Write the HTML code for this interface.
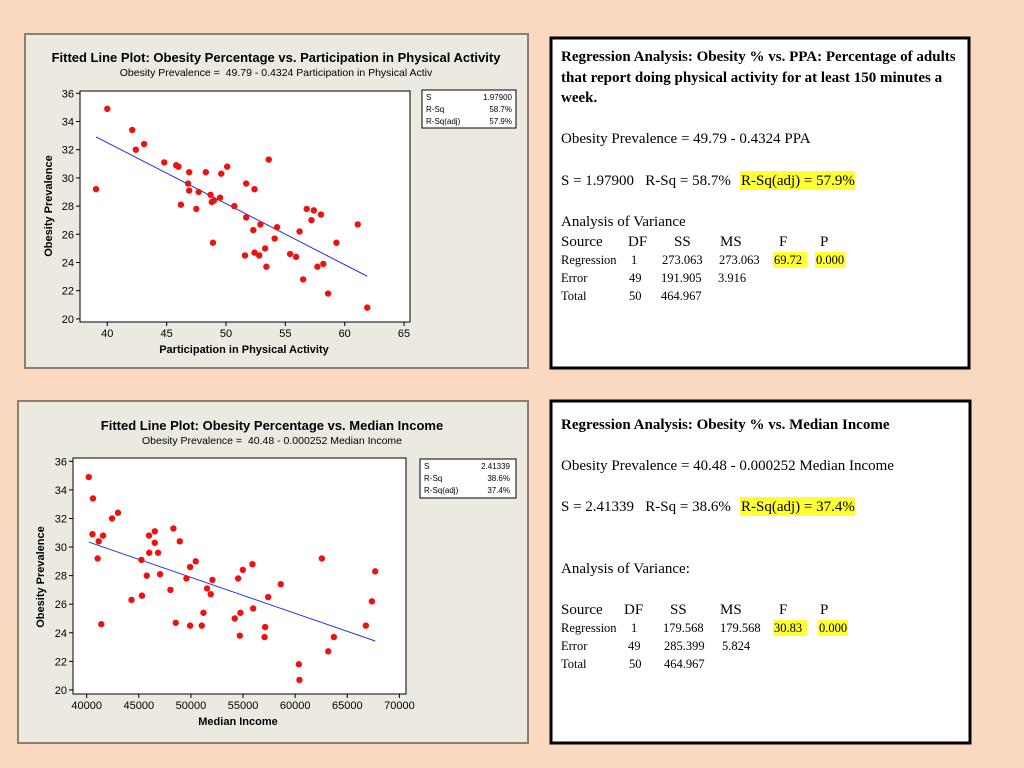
<!DOCTYPE html>
<html><head><meta charset="utf-8"><style>
html,body{margin:0;padding:0;background:#fbd9c0;}
svg{display:block;font-family:"Liberation Sans",sans-serif;}
.pre{white-space:pre;}
</style></head><body>
<svg id="page" width="1024" height="768" viewBox="0 0 1024 768">
<rect x="0" y="0" width="1024" height="768" fill="#fbd9c0"/>
<g id="chart1">
<rect x="25" y="34" width="503" height="334" fill="#ece9e1" stroke="#8a7f70" stroke-width="2"/>
<text x="276" y="62" text-anchor="middle" font-weight="bold" font-size="13">Fitted Line Plot: Obesity Percentage vs. Participation in Physical Activity</text>
<text x="276" y="76" text-anchor="middle" font-size="10.5" class="pre">Obesity Prevalence =  49.79 - 0.4324 Participation in Physical Activ</text>
<rect x="80" y="91" width="330" height="231" fill="#fff" stroke="#000" stroke-width="1"/>
<g id="c1ticks"></g><g id="c1marks"></g>
<g>
<rect x="422" y="90" width="94" height="38" fill="#fff" stroke="#000"/>
<g font-size="8"><text x="426" y="100">S</text><text x="512" y="100" text-anchor="end">1.97900</text>
<text x="426" y="112">R-Sq</text><text x="512" y="112" text-anchor="end">58.7%</text>
<text x="426" y="124">R-Sq(adj)</text><text x="512" y="124" text-anchor="end">57.9%</text></g></g>
<text x="244" y="353" text-anchor="middle" font-weight="bold" font-size="11">Participation in Physical Activity</text>
<text transform="translate(52,206) rotate(-90)" text-anchor="middle" font-weight="bold" font-size="11">Obesity Prevalence</text>
</g>
<g id="chart2">
<rect x="18" y="401" width="510" height="342" fill="#ece9e1" stroke="#8a7f70" stroke-width="2"/>
<text x="272" y="430" text-anchor="middle" font-weight="bold" font-size="13">Fitted Line Plot: Obesity Percentage vs. Median Income</text>
<text x="272" y="444" text-anchor="middle" font-size="10.5" class="pre">Obesity Prevalence =  40.48 - 0.000252 Median Income</text>
<rect x="73" y="458" width="333" height="236" fill="#fff" stroke="#000" stroke-width="1"/>
<g id="c2ticks"></g><g id="c2marks"></g>
<g>
<rect x="420" y="459" width="96" height="39" fill="#fff" stroke="#000"/>
<g font-size="8"><text x="424" y="469">S</text><text x="510" y="469" text-anchor="end">2.41339</text>
<text x="424" y="481">R-Sq</text><text x="510" y="481" text-anchor="end">38.6%</text>
<text x="424" y="493">R-Sq(adj)</text><text x="510" y="493" text-anchor="end">37.4%</text></g></g>
<text x="238" y="725" text-anchor="middle" font-weight="bold" font-size="11">Median Income</text>
<text transform="translate(44,577) rotate(-90)" text-anchor="middle" font-weight="bold" font-size="11">Obesity Prevalence</text>
</g>
<g font-family="Liberation Serif, serif">
<rect x="551" y="38" width="418" height="330" fill="#fff" stroke="#000" stroke-width="3"/>
<g font-weight="bold" font-size="15">
<text x="561" y="61">Regression Analysis: Obesity % vs. PPA: Percentage of adults</text>
<text x="561" y="82">that report doing physical activity for at least 150 minutes a</text>
<text x="561" y="102">week.</text></g>
<text x="561" y="143" font-size="15">Obesity Prevalence = 49.79 - 0.4324 PPA</text>
<rect x="740" y="171" width="115" height="19" fill="#ffff33"/>
<text x="561" y="185" font-size="15" class="pre">S = 1.97900   R-Sq = 58.7%</text>
<text x="741" y="185" font-size="15">R-Sq(adj) = 57.9%</text>
<text x="561" y="226" font-size="15">Analysis of Variance</text>
<g font-size="15"><text x="561" y="246">Source</text><text x="628" y="246">DF</text><text x="674" y="246">SS</text><text x="720" y="246">MS</text><text x="779" y="246">F</text><text x="820" y="246">P</text></g>
<rect x="773" y="252" width="34" height="16" fill="#ffff33"/><rect x="815" y="252" width="30" height="16" fill="#ffff33"/>
<g font-size="12.5">
<text x="561" y="264">Regression</text><text x="631" y="264">1</text><text x="662" y="264">273.063</text><text x="719" y="264">273.063</text><text x="774" y="264">69.72</text><text x="816" y="264">0.000</text>
<text x="561" y="282">Error</text><text x="629" y="282">49</text><text x="661" y="282">191.905</text><text x="718" y="282">3.916</text>
<text x="561" y="300">Total</text><text x="629" y="300">50</text><text x="661" y="300">464.967</text></g>
</g>
<g font-family="Liberation Serif, serif">
<rect x="551" y="401" width="419" height="342" fill="#fff" stroke="#000" stroke-width="3"/>
<text x="561" y="429" font-weight="bold" font-size="15">Regression Analysis: Obesity % vs. Median Income</text>
<text x="561" y="470" font-size="15">Obesity Prevalence = 40.48 - 0.000252 Median Income</text>
<rect x="740" y="497" width="115" height="19" fill="#ffff33"/>
<text x="561" y="511" font-size="15" class="pre">S = 2.41339   R-Sq = 38.6%</text>
<text x="741" y="511" font-size="15">R-Sq(adj) = 37.4%</text>
<text x="561" y="573" font-size="15">Analysis of Variance:</text>
<g font-size="15"><text x="561" y="614">Source</text><text x="624" y="614">DF</text><text x="670" y="614">SS</text><text x="720" y="614">MS</text><text x="779" y="614">F</text><text x="820" y="614">P</text></g>
<rect x="773" y="620" width="34" height="16" fill="#ffff33"/><rect x="818" y="620" width="30" height="16" fill="#ffff33"/>
<g font-size="12.5">
<text x="561" y="632">Regression</text><text x="631" y="632">1</text><text x="663" y="632">179.568</text><text x="720" y="632">179.568</text><text x="774" y="632">30.83</text><text x="819" y="632">0.000</text>
<text x="561" y="650">Error</text><text x="628" y="650">49</text><text x="664" y="650">285.399</text><text x="722" y="650">5.824</text>
<text x="561" y="668">Total</text><text x="629" y="668">50</text><text x="664" y="668">464.967</text></g>
</g>
</svg>
<script>
const ppaX=[39.05,40,42.1,42.4,43.1,44.8,45.8,46.0,46.9,46.8,46.9,46.2,47.7,47.5,48.3,48.7,48.8,49.0,49.5,48.9,49.6,50.1,50.7,51.7,51.7,52.4,53.6,52.3,52.9,51.6,52.4,52.8,53.3,53.4,54.1,54.3,55.4,55.9,56.2,56.5,56.8,57.4,57.2,58.0,57.7,58.2,58.6,59.3,61.1,61.9];
const ppaY=[29.2,34.9,33.4,32.0,32.4,31.1,30.9,30.8,30.4,29.6,29.1,28.1,29.0,27.8,30.4,28.8,28.3,28.4,28.6,25.4,30.3,30.8,28.0,29.6,27.2,29.2,31.3,26.3,26.7,24.5,24.7,24.5,25.0,23.7,25.7,26.5,24.6,24.4,26.2,22.8,27.8,27.7,27.0,27.4,23.7,23.9,21.8,25.4,26.7,20.8];
const ppaXTicks=[40,45,50,55,60,65];
const yTicks=[20,22,24,26,28,30,32,34,36];
const ppaFit=[49.79,-0.4324];
const incX=[40200,40600,40550,41150,41570,41050,41400,42430,43000,44300,45250,45300,45760,45980,46000,46530,46530,46850,47040,48030,48320,48540,48930,49570,49920,49920,50460,51040,51200,51550,51900,52060,54200,54530,54750,54980,54690,55900,55970,57060,57120,57410,58620,60350,60410,62560,63170,63710,66780,67360,67680];
const incY=[34.9,33.4,30.9,30.4,30.8,29.2,24.6,32.0,32.4,26.3,29.1,26.6,28.0,30.8,29.6,31.1,30.3,29.6,28.1,27.0,31.3,24.7,30.4,27.8,28.6,24.5,29.0,24.5,25.4,27.1,26.7,27.7,25.0,27.8,25.4,28.4,23.8,28.8,25.7,23.7,24.4,26.5,27.4,21.8,20.7,29.2,22.7,23.7,24.5,26.2,28.3];
const incXTicks=[40000,45000,50000,55000,60000,65000,70000];
const incFit=[40.48,-0.000252];
const NS='http://www.w3.org/2000/svg';
function mk(tag,attrs,parent){const e=document.createElementNS(NS,tag);for(const k in attrs)e.setAttribute(k,attrs[k]);parent.appendChild(e);return e;}
function draw(tg,mg,xs,ys,xt,fit,ax,ay,prefix){
  const tickG=document.getElementById(tg),markG=document.getElementById(mg);
  const plot=tickG.previousElementSibling;
  const left=+plot.getAttribute('x'),top=+plot.getAttribute('y'),bottom=top+(+plot.getAttribute('height'));
  xt.forEach(t=>{const px=ax(t);
    const l=mk('line',{x1:px,x2:px,y1:bottom,y2:bottom+4,stroke:'#000'},tickG);
    
    
    const tx=mk('text',{x:px,y:bottom+15,'text-anchor':'middle','font-size':'11'},tickG);tx.textContent=t;
    
    });
  yTicks.forEach(t=>{const py=ay(t);
    const l=mk('line',{x1:left-4,x2:left,y1:py,y2:py,stroke:'#000'},tickG);
    
    
    const tx=mk('text',{x:left-6,y:py+4,'text-anchor':'end','font-size':'11'},tickG);tx.textContent=t;
    
    });
  const x0=Math.min(...xs),x1=Math.max(...xs);
  const ln=mk('line',{x1:ax(x0),y1:ay(fit[0]+fit[1]*x0),x2:ax(x1),y2:ay(fit[0]+fit[1]*x1),stroke:'#2233dd','stroke-width':'1'},markG);
  
  
  xs.forEach((x,i)=>{const c=mk('circle',{cx:ax(x),cy:ay(ys[i]),r:3.2,fill:'#ee1111'},markG);
    
    });
}
draw('c1ticks','c1marks',ppaX,ppaY,ppaXTicks,ppaFit,v=>107.3+(v-40)*11.87,v=>93.3+(36-v)*14.1,'chart1');
draw('c2ticks','c2marks',incX,incY,incXTicks,incFit,v=>86.7+(v-40000)*312.7/30000,v=>461.3+(36-v)*14.29,'chart2');
</script>
</body></html>
